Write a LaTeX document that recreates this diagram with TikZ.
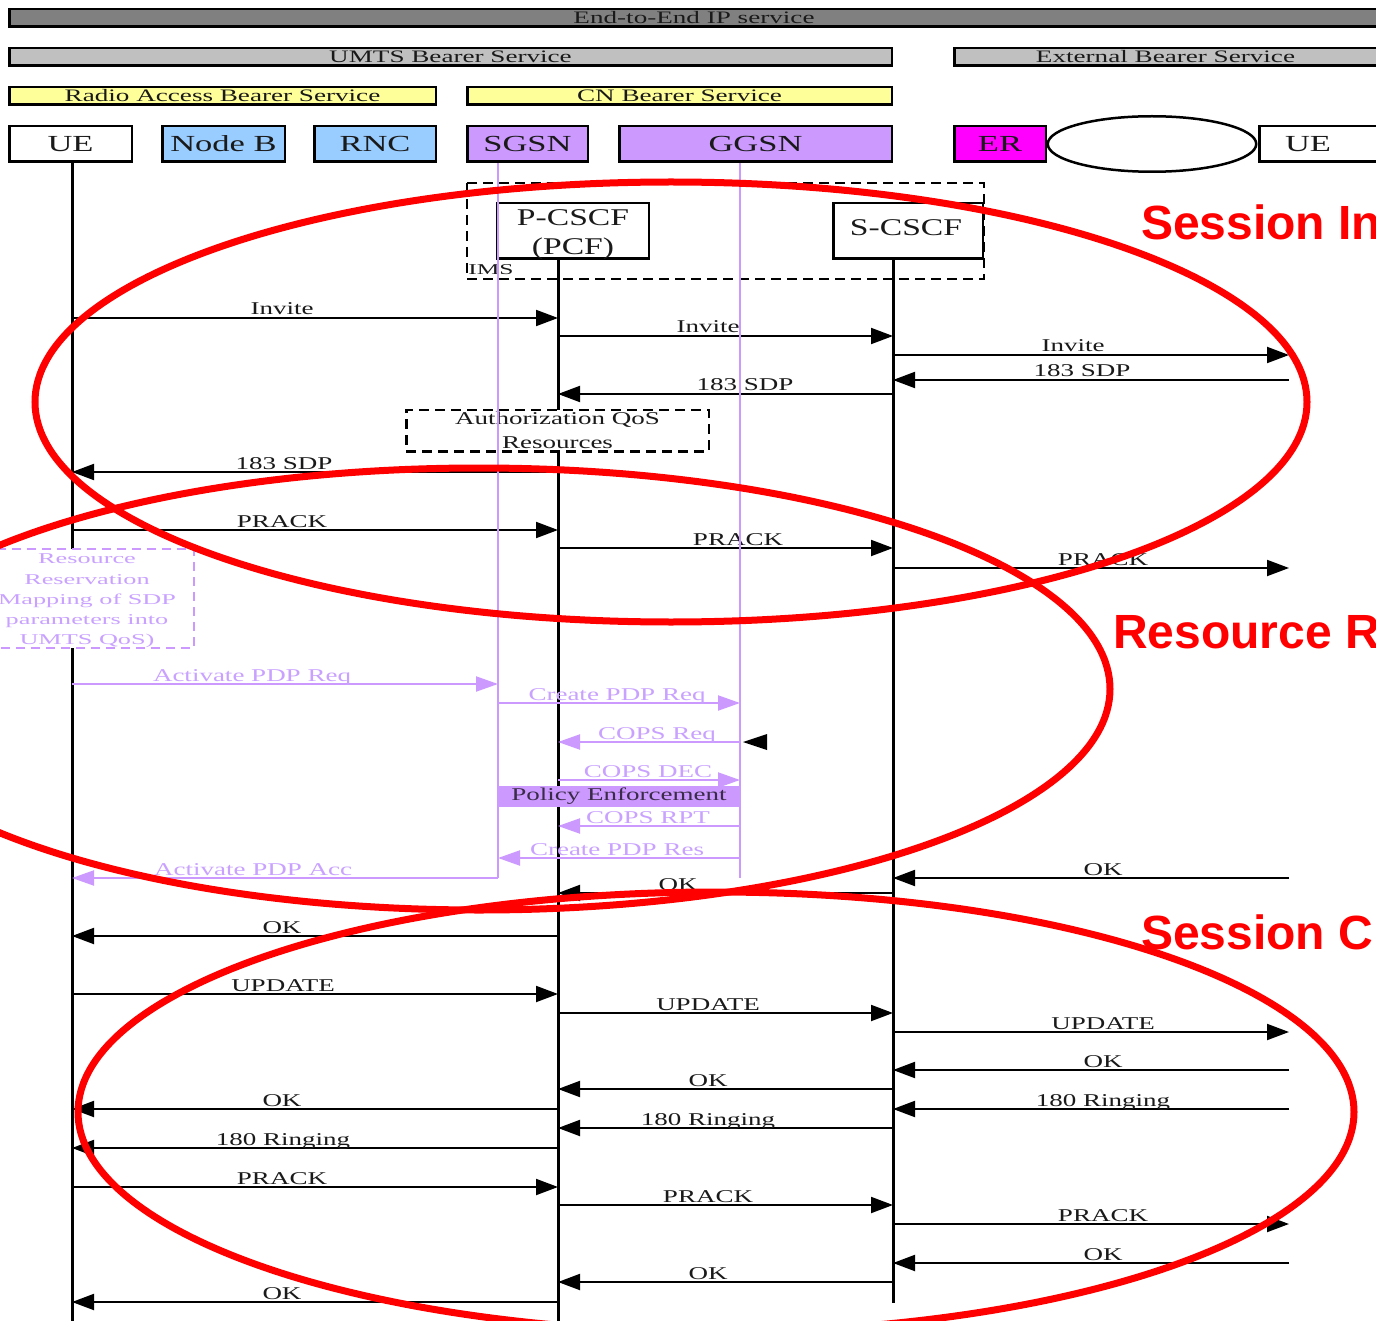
\documentclass[tikz,border=0pt]{standalone}
\usepackage{fontspec}
\usepackage{graphicx}
\setmainfont{Liberation Serif}
\newfontfamily\bannerfont{Liberation Sans}
\usetikzlibrary{arrows.meta,shapes.geometric}

\definecolor{barDark}{HTML}{808080}
\definecolor{barLight}{HTML}{C0C0C0}
\definecolor{barYellow}{HTML}{FFFF99}
\definecolor{nodeBlue}{HTML}{99CCFF}
\definecolor{nodePurple}{HTML}{CC99FF}
\definecolor{pdpText}{HTML}{C9A2FF}
\definecolor{erMagenta}{HTML}{FF00FF}
\definecolor{phaseRed}{HTML}{FF0000}
\definecolor{ink}{HTML}{1A1A1A}
\definecolor{peInk}{HTML}{3A2C48}

% horizontally widened text, as the labels are set
\newcommand\stretched[2][1.5]{\scalebox{#1}[1]{#2}}

\begin{document}
\begin{tikzpicture}[
  x=1pt, y=-1pt,
  bar/.style={draw=black, line width=2.5pt, minimum height=17.5pt, inner sep=0pt,
              font=\fontsize{17.5}{20}\selectfont, text=ink},
  hdr/.style={draw=black, line width=2.5pt, minimum height=35.5pt, inner sep=0pt,
              font=\fontsize{23}{26}\selectfont, text=ink},
  life/.style={line width=3pt, black},
  pdpline/.style={line width=2.2pt, nodePurple},
  msg/.style={line width=2pt, black, -{Triangle[length=22pt,width=16pt]}},
  pmsg/.style={line width=2pt, nodePurple, -{Triangle[length=22pt,width=15pt]}},
  lbl/.style={font=\fontsize{18}{20}\selectfont, text=ink, inner sep=0pt, anchor=base, yshift=3pt},
  plbl/.style={lbl, text=pdpText},
  dashbox/.style={draw=black, line width=2.5pt, dash pattern=on 10pt off 6pt, fill=white},
  phase/.style={draw=phaseRed, line width=7pt},
  phasetext/.style={font=\bannerfont\bfseries\fontsize{48}{54}\selectfont, text=phaseRed,
                    anchor=base west, inner sep=0pt},
]
\useasboundingbox (0,0) rectangle (1376,1321);
\clip (0,0) rectangle (1376,1321);
\fill[white] (0,0) rectangle (1376,1321);

% ---- bearer service bars ----
\node[bar, fill=barDark,   minimum width=1369.5pt] (e2e)  at (694,18)  {\stretched[1.55]{End-to-End IP service}};
\node[bar, fill=barLight,  minimum width=882.5pt]  (umts) at (450.5,57) {\stretched[1.55]{UMTS Bearer Service}};
\node[bar, fill=barLight,  minimum width=422.5pt]  (ext)  at (1165.5,57) {\stretched[1.55]{External Bearer Service}};
\node[bar, fill=barYellow, minimum width=426.5pt]  (rab)  at (222.5,96) {\stretched[1.55]{Radio Access Bearer Service}};
\node[bar, fill=barYellow, minimum width=424.5pt]  (cnb)  at (679.5,96) {\stretched[1.55]{CN Bearer Service}};

% ---- network elements ----
\node[draw=black, line width=2.5pt, ellipse, fill=white, minimum width=208.5pt,
      minimum height=55.5pt, inner sep=0pt] (cloud) at (1152,144) {};
\node[hdr, fill=white,      minimum width=122.5pt] (ueA)  at (70.5,144)  {\stretched{UE}};
\node[hdr, fill=nodeBlue,   minimum width=122.5pt] (nodeb) at (223.5,144) {\stretched{Node B}};
\node[hdr, fill=nodeBlue,   minimum width=121.5pt] (rnc)  at (375,144)   {\stretched{RNC}};
\node[hdr, fill=nodePurple, minimum width=120.5pt] (sgsn) at (527.5,144) {\stretched{SGSN}};
\node[hdr, fill=nodePurple, minimum width=272.5pt] (ggsn) at (755.5,144) {\stretched{GGSN}};
\node[hdr, fill=erMagenta,  minimum width=91.5pt]  (er)   at (1000,144)  {\stretched{ER}};
\node[hdr, fill=white,      minimum width=139.5pt] (ueBox) at (1329,144) {};
\node[font=\fontsize{23}{26}\selectfont, text=ink, inner sep=0pt] (ueB) at (1308,144) {\stretched{UE}};

% ---- IMS ----
\draw[dashbox, fill=none] (467,183) rectangle (984,279);
\node[font=\fontsize{15}{17}\selectfont, text=ink, inner sep=0pt] (ims) at (491,270) {\stretched[1.7]{IMS}};
\node[draw=black, line width=2.5pt, fill=white, minimum width=151.5pt, minimum height=55.5pt,
      inner sep=0pt] (pcscf) at (573,231) {};
\node[align=center, inner sep=0pt, font=\fontsize{24}{29}\selectfont, text=ink]
      (pcscfT) at (573,235) {\stretched[1.4]{P-CSCF}\\\stretched[1.4]{(PCF)}};
\node[draw=black, line width=2.5pt, fill=white, minimum width=149.5pt, minimum height=55.5pt,
      inner sep=0pt] (scscf) at (908,231) {};
\node[font=\fontsize{24}{29}\selectfont, text=ink, inner sep=0pt] (scscfT) at (906,228) {\stretched[1.4]{S-CSCF}};

% ---- lifeline positions ----
\coordinate (xUE) at (72,0);
\coordinate (xSG) at (498,0);
\coordinate (xP)  at (558,0);
\coordinate (xGG) at (740,0);
\coordinate (xS)  at (893,0);
\coordinate (xExt) at (1289,0);

\draw[life] (xUE |- ueA.south) -- (xUE |- 0,1330);
\draw[life] (xP |- pcscf.south) -- (xP |- 0,1330);
\draw[life] (xS |- scscf.south) -- (xS |- 0,1303);

% ---- SIP signalling ----
\foreach \a/\b/\yy/\lx/\t [count=\i] in {
  xUE/xP/318/282/Invite, xP/xS/336/708/Invite, xS/xExt/355/1073/Invite,
  xExt/xS/380/1082/183 SDP, xS/xP/394/745/183 SDP, xP/xUE/472/284/183 SDP,
  xUE/xP/530/282/PRACK, xP/xS/548/738/PRACK, xS/xExt/568/1103/PRACK,
  xExt/xS/878/1103/OK, xS/xP/893/678/OK, xP/xUE/936/282/OK,
  xUE/xP/994/283/UPDATE, xP/xS/1013/708/UPDATE, xS/xExt/1032/1103/UPDATE,
  xExt/xS/1070/1103/OK, xS/xP/1089/708/OK, xP/xUE/1109/282/OK,
  xExt/xS/1109/1103/180 Ringing, xS/xP/1128/708/180 Ringing, xP/xUE/1148/283/180 Ringing,
  xUE/xP/1187/282/PRACK, xP/xS/1205/708/PRACK, xS/xExt/1224/1103/PRACK,
  xExt/xS/1263/1103/OK, xS/xP/1282/708/OK, xP/xUE/1302/282/OK}
{
  \draw[msg] (\a |- 0,\yy) -- (\b |- 0,\yy);
  \node[lbl] (sip\i) at (\lx,\yy) {\stretched{\t}};
}

% ---- boxes on the lifelines ----
\node[dashbox, minimum width=302.5pt, minimum height=41.5pt, inner sep=0pt, align=center,
      font=\fontsize{18}{24}\selectfont, text=ink] (auth) at (557.5,430.5)
      {\stretched{Authorization QoS}\\\stretched{Resources}};
\draw[dashbox, draw=nodePurple, dash pattern=on 9pt off 6pt] (-5,549) rectangle (194,648);
\node[font=\fontsize{15}{20.2}\selectfont, text=pdpText, align=center, inner sep=0pt] (resv) at (87,601)
  {\stretched[1.75]{Resource}\\\stretched[1.75]{Reservation}\\\stretched[1.75]{Mapping of SDP}\\
   \stretched[1.75]{parameters into}\\\stretched[1.75]{UMTS QoS)}};

% ---- PDP context signalling ----
\draw[pdpline] (xSG |- sgsn.south) -- (xSG |- 0,878);
\draw[pdpline] (xGG |- ggsn.south) -- (xGG |- 0,878);
\foreach \a/\b/\yy/\lx/\t [count=\i] in {
  xUE/xSG/684/252/Activate PDP Req, xSG/xGG/703/617/Create PDP Req,
  xGG/xP/742/657/COPS Req, xP/xGG/780/648/COPS DEC,
  xGG/xP/826/648/COPS RPT, xGG/xSG/858/617/Create PDP Res,
  xSG/xUE/878/253/Activate PDP Acc}
{
  \draw[pmsg] (\a |- 0,\yy) -- (\b |- 0,\yy);
  \node[plbl] (pdp\i) at (\lx,\yy) {\stretched{\t}};
}
\node[fill=nodePurple, minimum width=243pt, minimum height=21pt, inner sep=0pt,
      font=\fontsize{18}{20}\selectfont, text=peInk] (pe) at (619,796) {\stretched{Policy Enforcement}};
\fill[black] (743,742) -- (767,734) -- (767,750) -- cycle;

% ---- phases ----
\draw[phase] (671,402) ellipse [x radius=636pt, y radius=220pt];
\draw[phase] (479,689) ellipse [x radius=631pt, y radius=221pt];
\draw[phase] (716,1112) ellipse [x radius=638pt, y radius=220pt];
\node[phasetext] (ph1) at (1141,240) {Session In};
\node[phasetext] (ph2) at (1113,648) {Resource R};
\node[phasetext] (ph3) at (1141,949) {Session C};
\end{tikzpicture}
\end{document}
